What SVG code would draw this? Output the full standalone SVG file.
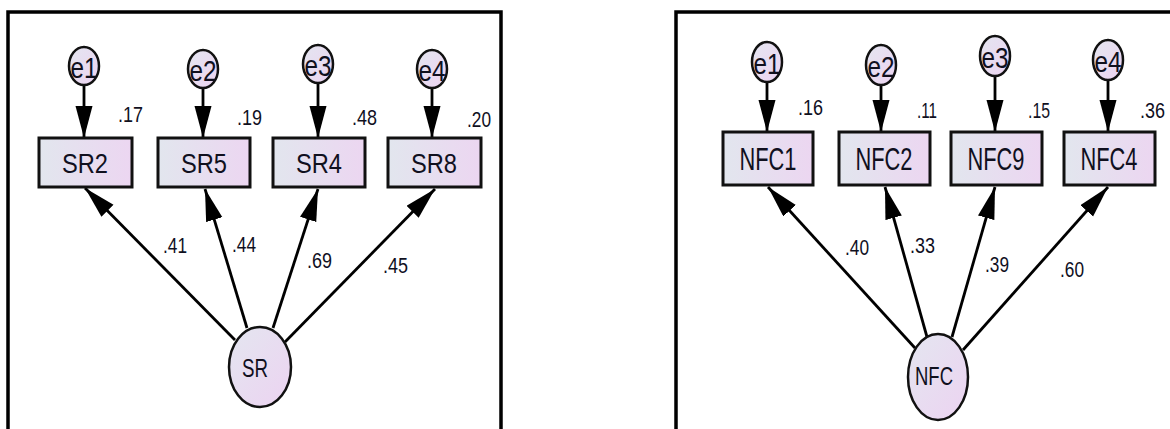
<svg xmlns="http://www.w3.org/2000/svg" width="1170" height="429" viewBox="0 0 1170 429">
  <style>
    .frame { fill: none; stroke: #000; stroke-width: 3.5; }
    .box { fill: url(#boxFill); stroke: #111; stroke-width: 3; }
    .ell { fill: url(#ellFill); stroke: #111; stroke-width: 2.5; }
    .edge { fill: none; stroke: #000; stroke-width: 2.8; marker-end: url(#head); }
    .lbl { font-family: "Liberation Sans", Arial, sans-serif; fill: #10101e; }
    .var { font-size: 28px; text-anchor: middle; }
    .var2 { font-size: 31px; text-anchor: middle; }
    .err { font-size: 30px; text-anchor: middle; }
    .lat { font-size: 26px; }
    .num { font-size: 22px; }
  </style>
  <defs>
    <linearGradient id="boxFill" x1="0" y1="0" x2="1" y2="0">
      <stop offset="0" stop-color="#e2e6ee"/>
      <stop offset="1" stop-color="#ecd6f1"/>
    </linearGradient>
    <linearGradient id="ellFill" x1="0" y1="0" x2="1" y2="1">
      <stop offset="0" stop-color="#e4e6f0"/>
      <stop offset="1" stop-color="#ecd3f1"/>
    </linearGradient>
    <marker id="head" markerUnits="userSpaceOnUse" markerWidth="34" markerHeight="18" refX="32" refY="8.5" orient="auto">
      <path d="M0,0 L32,8.5 L0,17 z" fill="#000"/>
    </marker>
  </defs>

  <!-- panel frames -->
  <path class="frame" d="M8,440 V12 H501 V440"/>
  <path class="frame" d="M676,440 V12 H1180"/>

  <!-- connectors -->
  <g id="connectors">
    <!-- SR model: errors to indicators -->
    <path class="edge" d="M84,85 V138"/>
    <path class="edge" d="M203,88 V138"/>
    <path class="edge" d="M318,83 V138"/>
    <path class="edge" d="M432,88 V138"/>
    <!-- SR model: loadings -->
    <path class="edge" d="M235,340 L85,188"/>
    <path class="edge" d="M247,328 L205,189"/>
    <path class="edge" d="M273,328 L318,189"/>
    <path class="edge" d="M285,342 L435,189"/>
    <!-- NFC model: errors to indicators -->
    <path class="edge" d="M767,82 V132"/>
    <path class="edge" d="M881,85 V132"/>
    <path class="edge" d="M995,76 V132"/>
    <path class="edge" d="M1108,80 V132"/>
    <!-- NFC model: loadings -->
    <path class="edge" d="M915,348 L768,187"/>
    <path class="edge" d="M927,337 L885,187"/>
    <path class="edge" d="M952,337 L995,187"/>
    <path class="edge" d="M963,350 L1108,187"/>
  </g>

  <!-- path coefficients -->
  <g id="loadings" class="lbl num">
    <text x="163" y="253" textLength="24" lengthAdjust="spacingAndGlyphs">.41</text>
    <text x="232" y="252" textLength="24" lengthAdjust="spacingAndGlyphs">.44</text>
    <text x="307" y="268" textLength="25" lengthAdjust="spacingAndGlyphs">.69</text>
    <text x="383" y="273" textLength="25" lengthAdjust="spacingAndGlyphs">.45</text>
    <text x="845" y="255" textLength="24" lengthAdjust="spacingAndGlyphs">.40</text>
    <text x="910" y="253" textLength="25" lengthAdjust="spacingAndGlyphs">.33</text>
    <text x="985" y="272" textLength="24" lengthAdjust="spacingAndGlyphs">.39</text>
    <text x="1060" y="277" textLength="24" lengthAdjust="spacingAndGlyphs">.60</text>
  </g>

  <!-- SR model nodes -->
  <g id="e1_sr"><ellipse class="ell" cx="84" cy="66" rx="15" ry="19"/><text class="lbl err" x="84" y="78" textLength="27" lengthAdjust="spacingAndGlyphs">e1</text></g>
  <g id="e2_sr"><ellipse class="ell" cx="203" cy="69" rx="15" ry="19"/><text class="lbl err" x="203" y="81" textLength="27" lengthAdjust="spacingAndGlyphs">e2</text></g>
  <g id="e3_sr"><ellipse class="ell" cx="318" cy="64" rx="15" ry="19"/><text class="lbl err" x="318" y="76" textLength="27" lengthAdjust="spacingAndGlyphs">e3</text></g>
  <g id="e4_sr"><ellipse class="ell" cx="432" cy="69" rx="15" ry="19"/><text class="lbl err" x="432" y="81" textLength="27" lengthAdjust="spacingAndGlyphs">e4</text></g>

  <g id="SR2"><rect class="box" x="39" y="138" width="93" height="49"/><text class="lbl var" x="85" y="173" textLength="46" lengthAdjust="spacingAndGlyphs">SR2</text><text class="lbl num" x="118" y="122" textLength="25" lengthAdjust="spacingAndGlyphs">.17</text></g>
  <g id="SR5"><rect class="box" x="158" y="138" width="92" height="49"/><text class="lbl var" x="204" y="173" textLength="46" lengthAdjust="spacingAndGlyphs">SR5</text><text class="lbl num" x="237" y="125" textLength="25" lengthAdjust="spacingAndGlyphs">.19</text></g>
  <g id="SR4"><rect class="box" x="273" y="138" width="92" height="49"/><text class="lbl var" x="319" y="173" textLength="46" lengthAdjust="spacingAndGlyphs">SR4</text><text class="lbl num" x="352" y="125" textLength="25" lengthAdjust="spacingAndGlyphs">.48</text></g>
  <g id="SR8"><rect class="box" x="388" y="138" width="93" height="49"/><text class="lbl var" x="434" y="173" textLength="46" lengthAdjust="spacingAndGlyphs">SR8</text><text class="lbl num" x="467" y="127" textLength="24" lengthAdjust="spacingAndGlyphs">.20</text></g>

  <g id="SR"><ellipse class="ell" cx="260" cy="367" rx="31" ry="40"/><text class="lbl lat" x="242" y="377" textLength="26" lengthAdjust="spacingAndGlyphs">SR</text></g>

  <!-- NFC model nodes -->
  <g id="e1_nfc"><ellipse class="ell" cx="767" cy="62" rx="15" ry="20"/><text class="lbl err" x="767" y="74" textLength="27" lengthAdjust="spacingAndGlyphs">e1</text></g>
  <g id="e2_nfc"><ellipse class="ell" cx="881" cy="65" rx="15" ry="20"/><text class="lbl err" x="881" y="77" textLength="27" lengthAdjust="spacingAndGlyphs">e2</text></g>
  <g id="e3_nfc"><ellipse class="ell" cx="995" cy="56" rx="15" ry="20"/><text class="lbl err" x="995" y="68" textLength="27" lengthAdjust="spacingAndGlyphs">e3</text></g>
  <g id="e4_nfc"><ellipse class="ell" cx="1108" cy="60" rx="15" ry="20"/><text class="lbl err" x="1108" y="72" textLength="27" lengthAdjust="spacingAndGlyphs">e4</text></g>

  <g id="NFC1"><rect class="box" x="723" y="132" width="90" height="53"/><text class="lbl var2" x="768" y="170" textLength="57" lengthAdjust="spacingAndGlyphs">NFC1</text><text class="lbl num" x="798" y="115" textLength="25" lengthAdjust="spacingAndGlyphs">.16</text></g>
  <g id="NFC2"><rect class="box" x="839" y="132" width="91" height="53"/><text class="lbl var2" x="884" y="170" textLength="57" lengthAdjust="spacingAndGlyphs">NFC2</text><text class="lbl num" x="917" y="118" textLength="20" lengthAdjust="spacingAndGlyphs">.11</text></g>
  <g id="NFC9"><rect class="box" x="951" y="132" width="91" height="53"/><text class="lbl var2" x="996" y="170" textLength="57" lengthAdjust="spacingAndGlyphs">NFC9</text><text class="lbl num" x="1028" y="118" textLength="22" lengthAdjust="spacingAndGlyphs">.15</text></g>
  <g id="NFC4"><rect class="box" x="1064" y="132" width="91" height="53"/><text class="lbl var2" x="1109" y="170" textLength="57" lengthAdjust="spacingAndGlyphs">NFC4</text><text class="lbl num" x="1140" y="118" textLength="25" lengthAdjust="spacingAndGlyphs">.36</text></g>

  <g id="NFC"><ellipse class="ell" cx="938" cy="377" rx="30" ry="43"/><text class="lbl lat" x="915" y="385" font-size="25" textLength="38" lengthAdjust="spacingAndGlyphs">NFC</text></g>
</svg>
